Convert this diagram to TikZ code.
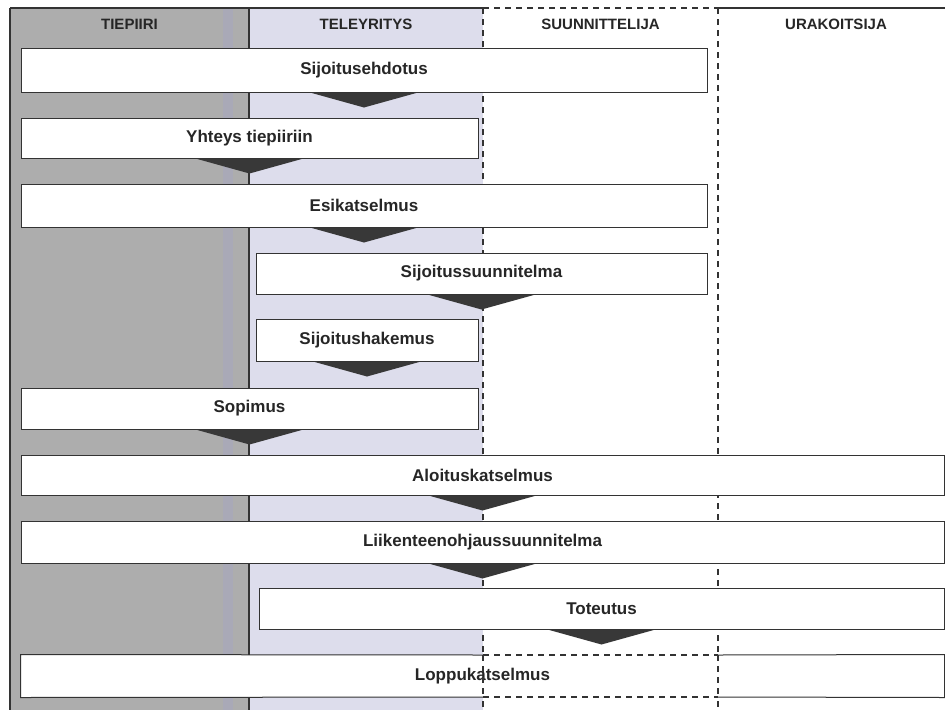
\documentclass[tikz,border=0pt]{standalone}
\usepackage{fontspec}
\setmainfont{Liberation Sans}
\definecolor{graycol}{HTML}{ADADAD}
\definecolor{lavcol}{HTML}{DDDDEC}
\definecolor{stripe}{HTML}{A9A9B7}
\definecolor{linec}{HTML}{333333}
\definecolor{arrowc}{HTML}{383838}
\definecolor{txtc}{HTML}{262626}
\begin{document}
\begin{tikzpicture}[x=1pt,y=-1pt,
  procbox/.style={draw=linec, line width=1pt, fill=white, inner sep=0pt,
    font=\fontsize{17}{20}\selectfont\bfseries, text=txtc},
  header/.style={inner sep=0pt, font=\fontsize{15}{18}\selectfont\bfseries, text=txtc},
  solidline/.style={draw=linec, line width=1.2pt},
  dashline/.style={draw=linec, line width=1.4pt, dash pattern=on 6pt off 5pt},
  chevron/.style={fill=arrowc}
]
\useasboundingbox (0,0) rectangle (945,710);
\fill[white] (0,0) rectangle (945,710);
% columns
\fill[graycol] (10,8) rectangle (249,710);
\fill[stripe] (223,8) rectangle (233,710);
\fill[lavcol] (249,8) rectangle (483,710);
% coordinates for frame and lane lines
\coordinate (tl) at (10,8);
\coordinate (bl) at (10,710);
\coordinate (t1) at (249,8);
\coordinate (b1) at (249,710);
\coordinate (t2) at (483,8);
\coordinate (b2) at (483,710);
\coordinate (t3) at (718,8);
\coordinate (b3) at (718,710);
\coordinate (tr) at (945,8);
\draw[solidline] (tl) -- (bl);
\draw[solidline] (tl) -- (t2);
\draw[dashline] (t2) -- (t3);
\draw[solidline] (t3) -- (tr);
\draw[solidline] (t1) -- (b1);
\draw[dashline] (t2) -- (b2);
\draw[dashline] (t3) -- (b3);
% headers
\node[header] (h1) at (129.5,24) {TIEPIIRI};
\node[header] (h2) at (366,24) {TELEYRITYS};
\node[header] (h3) at (600.5,24) {SUUNNITTELIJA};
\node[header] (h4) at (836,24) {URAKOITSIJA};
% boxes
\node[procbox, minimum width=686pt, minimum height=44pt] (n1) at (364,70) {Sijoitusehdotus};
\node[procbox, minimum width=457pt, minimum height=40pt] (n2) at (249.5,138) {Yhteys tiepiiriin};
\node[procbox, minimum width=686pt, minimum height=43pt] (n3) at (364,205.5) {Esikatselmus};
\node[procbox, minimum width=451pt, minimum height=41pt] (n4) at (481.5,273.5) {Sijoitussuunnitelma};
\node[procbox, minimum width=222pt, minimum height=42pt] (n5) at (367,340) {Sijoitushakemus};
\node[procbox, minimum width=457pt, minimum height=41pt] (n6) at (249.5,408.5) {Sopimus};
\node[procbox, minimum width=923pt, minimum height=40pt] (n7) at (482.5,475) {Aloituskatselmus};
\node[procbox, minimum width=923pt, minimum height=42pt] (n8) at (482.5,542) {Liikenteenohjaussuunnitelma};
\node[procbox, minimum width=685pt, minimum height=41pt] (n9) at (601.5,608.5) {Toteutus};
\node[procbox, draw=none, minimum width=923pt, minimum height=42pt] (n10) at (482.5,676) {Loppukatselmus};
% Loppukatselmus border: solid outside, dashed in the SUUNNITTELIJA lane
\coordinate (lt1) at (483,655);
\coordinate (lt2) at (718,655);
\coordinate (lb1) at (483,697);
\coordinate (lb2) at (718,697);
\draw[draw=linec, line width=1pt] (lt1) -- (n10.north west) -- (n10.south west) -- (lb1);
\draw[draw=linec, line width=1pt] (lt2) -- (n10.north east) -- (n10.south east) -- (lb2);
\draw[dashline, line width=1.1pt] (lt1) -- (lt2);
\draw[dashline, line width=1.1pt] (lb1) -- (lb2);
\draw[dashline] (lt1) -- (lb1);
\draw[dashline] (lt2) -- (lb2);
% chevrons
\foreach \n in {n1,n2,n3,n4,n5,n6,n7,n8,n9}{
  \fill[chevron] ([xshift=-54pt]\n.south) -- ([xshift=54pt]\n.south) -- ([yshift=-15pt]\n.south) -- cycle;
}
\end{tikzpicture}
\end{document}
